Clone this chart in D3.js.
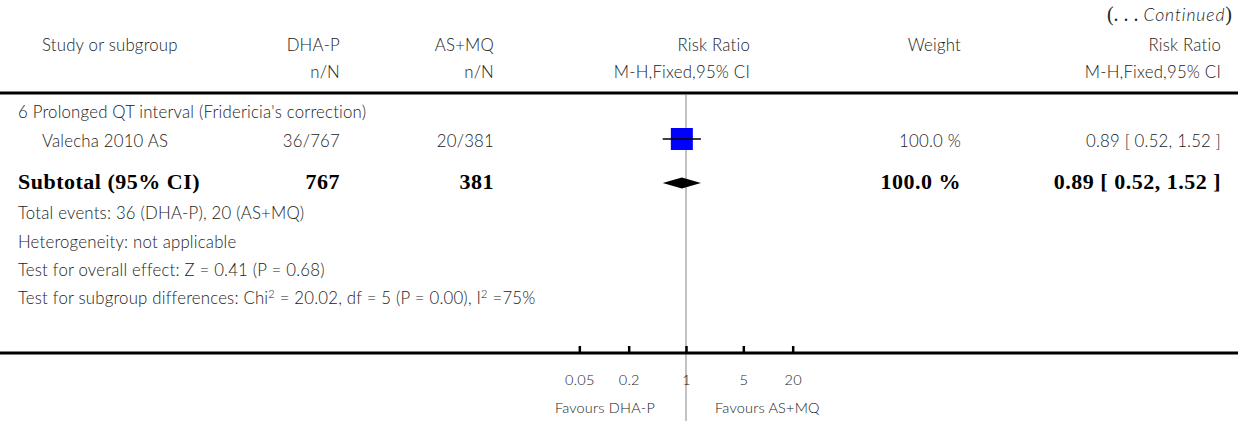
<!DOCTYPE html>
<html><head><meta charset="utf-8">
<script src="https://cdn.jsdelivr.net/npm/d3@7"></script>
<style>
body{margin:0;background:#fff;}
svg{display:block;}
.t{font-family:Lato,"Open Sans",sans-serif;font-weight:300;font-size:16.8px;letter-spacing:0.2px;fill:#222;}
.b{font-family:"Liberation Serif","Times New Roman",serif;font-weight:bold;font-size:22px;letter-spacing:0.5px;fill:#000;}
</style></head><body>
<script>
// ---- data ----
const headers = ["Study or subgroup","DHA-P","AS+MQ","Risk Ratio","Weight","Risk Ratio"];
const subHeaders = ["n/N","n/N","M-H,Fixed,95% CI","M-H,Fixed,95% CI"];
const subgroupTitle = "6 Prolonged QT interval (Fridericia's correction)";
const studies = ["Valecha 2010 AS"];
const eventsA = ["36/767"];
const eventsB = ["20/381"];
const rr = [0.89];
const lo = [0.52];
const hi = [1.52];
const weights = ["100.0 %"];
const rrText = ["0.89 [ 0.52, 1.52 ]"];
const subtotal = {label:"Subtotal (95% CI)", nA:"767", nB:"381", weight:"100.0 %", text:"0.89 [ 0.52, 1.52 ]", rr:0.89, lo:0.52, hi:1.52};
const footLines = ["Total events: 36 (DHA-P), 20 (AS+MQ)","Heterogeneity: not applicable","Test for overall effect: Z = 0.41  (P = 0.68)"];
const tickValues = [0.05,0.2,1,5,20];
const tickLabels = ["0.05","0.2","1","5","20"];
const favours = ["Favours DHA-P","Favours AS+MQ"];

const W=1247,H=421;
const svg=d3.select("body").append("svg").attr("width",W).attr("height",H);
const x=d3.scaleLog().domain([0.01,100]).range([522,850]);

const colX={study:42, a:340, b:494, rr:750, w:961, rrt:1221};

// continued
const cont=svg.append("text").attr("x",1232).attr("y",21).attr("text-anchor","end")
  .style("font-family","'Liberation Serif',serif").style("font-size","20px").attr("fill","#222");
cont.append("tspan").text("(. . . ");
cont.append("tspan").text("Continued").style("font-family","Lato,sans-serif").style("font-weight","300").style("font-style","italic").style("font-size","17.5px").style("letter-spacing","0.9px");
cont.append("tspan").text(")");

// headers
const hx=[colX.study,colX.a,colX.b,colX.rr,colX.w,colX.rrt];
headers.forEach((h,i)=>svg.append("text").attr("class","t").attr("x",hx[i]).attr("y",51)
  .attr("text-anchor",i===0?"start":"end").text(h));
[colX.a,colX.b,colX.rr,colX.rrt].forEach((xx,i)=>svg.append("text").attr("class","t").attr("x",xx).attr("y",78)
  .attr("text-anchor","end").text(subHeaders[i]));

// header line
svg.append("line").attr("x1",0).attr("x2",1238).attr("y1",93).attr("y2",93).attr("stroke","#000").attr("stroke-width",3);

// reference line
svg.append("line").attr("x1",x(1)).attr("x2",x(1)).attr("y1",95).attr("y2",H).attr("stroke","#999").attr("stroke-width",1.2);

// subgroup title
svg.append("text").attr("class","t").attr("x",18).attr("y",118).text(subgroupTitle);

// study rows
studies.forEach((s,i)=>{
  const y=141;
  svg.append("text").attr("class","t").attr("x",colX.study).attr("y",y+6).text(s);
  svg.append("text").attr("class","t").attr("x",colX.a).attr("y",y+6).attr("text-anchor","end").text(eventsA[i]);
  svg.append("text").attr("class","t").attr("x",colX.b).attr("y",y+6).attr("text-anchor","end").text(eventsB[i]);
  svg.append("text").attr("class","t").attr("x",colX.w).attr("y",y+6).attr("text-anchor","end").text(weights[i]);
  svg.append("text").attr("class","t").attr("x",colX.rrt).attr("y",y+6).attr("text-anchor","end").text(rrText[i]);
  const sz=22;
  svg.append("rect").attr("x",x(rr[i])-sz/2).attr("y",y-2-sz/2).attr("width",sz).attr("height",sz).attr("fill","#0000ff");
  svg.append("line").attr("x1",x(lo[i])).attr("x2",x(hi[i])).attr("y1",y-2).attr("y2",y-2).attr("stroke","#000").attr("stroke-width",1.5);
});

// subtotal
const sy=189;
svg.append("text").attr("class","b").attr("x",18).attr("y",sy).text(subtotal.label);
svg.append("text").attr("class","b").attr("x",colX.a).attr("y",sy).attr("text-anchor","end").text(subtotal.nA);
svg.append("text").attr("class","b").attr("x",colX.b).attr("y",sy).attr("text-anchor","end").text(subtotal.nB);
svg.append("text").attr("class","b").attr("x",colX.w).attr("y",sy).attr("text-anchor","end").text(subtotal.weight);
svg.append("text").attr("class","b").attr("x",colX.rrt).attr("y",sy).attr("text-anchor","end").text(subtotal.text);
const dy=183;
svg.append("path").attr("d",`M${x(subtotal.lo)},${dy} L${x(subtotal.rr)},${dy-5.5} L${x(subtotal.hi)},${dy} L${x(subtotal.rr)},${dy+5.5} Z`).attr("fill","#000");

// foot lines
footLines.forEach((f,i)=>svg.append("text").attr("class","t").attr("x",18).attr("y",219+i*28.5).text(f));
const last=svg.append("text").attr("class","t").attr("x",18).attr("y",304);
last.append("tspan").text("Test for subgroup differences: Chi");
last.append("tspan").text("2").attr("dy",-6).style("font-size","11px");
last.append("tspan").text(" = 20.02, df = 5 (P = 0.00), I").attr("dy",6);
last.append("tspan").text("2").attr("dy",-6).style("font-size","11px");
last.append("tspan").text(" =75%").attr("dy",6);

// axis
svg.append("line").attr("x1",0).attr("x2",1238).attr("y1",353).attr("y2",353).attr("stroke","#000").attr("stroke-width",3);
const ax=d3.axisBottom(x).tickValues(tickValues).tickSize(-7).tickPadding(22)
  .tickFormat((d,i)=>tickLabels[i]);
const g=svg.append("g").attr("transform","translate(0,353)").call(ax);
g.select(".domain").remove();
g.selectAll(".tick line").attr("stroke","#000").attr("stroke-width",2.5);
g.selectAll(".tick text").attr("class","t").attr("dy",null).attr("y",32).style("font-size","14.5px").attr("fill","#222");

svg.append("text").attr("class","t").attr("x",x(1)-31).attr("y",413).attr("text-anchor","end").style("font-size","14.5px").text(favours[0]);
svg.append("text").attr("class","t").attr("x",x(1)+29).attr("y",413).style("font-size","14.5px").text(favours[1]);
</script>
</body></html>
